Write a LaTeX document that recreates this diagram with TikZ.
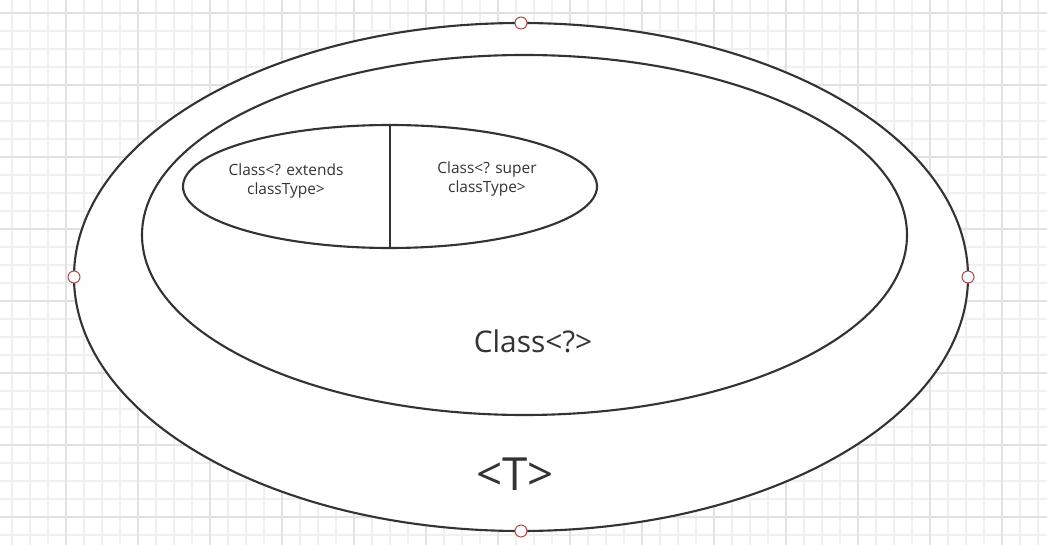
\documentclass[tikz,border=0pt]{standalone}
\usepackage{fontspec}
\setsansfont{Open Sans}
\definecolor{inkgray}{HTML}{333333}
\definecolor{handlered}{HTML}{B04A4A}
\definecolor{gridminor}{HTML}{F0F0F0}
\definecolor{gridmajor}{HTML}{E2E2E2}
\begin{document}
\begin{tikzpicture}[x=0.03cm,y=-0.03cm,
    gridline/.style={gridminor,line width=0.9pt},
    gridbold/.style={gridmajor,line width=1pt},
    setline/.style={draw=inkgray,line width=1.8pt},
    handle/.style={draw=handlered,fill=white,line width=0.9pt},
    every node/.style={font=\sffamily,text=inkgray,align=center}]
  \useasboundingbox (0,0) rectangle (1047,545);
  \fill[white] (0,0) rectangle (1047,545);
  % background grid
  \foreach \gx in {12,30,...,1046} \draw[gridline] (\gx,0) -- (\gx,545);
  \foreach \gy in {13,31,...,544} \draw[gridline] (0,\gy) -- (1047,\gy);
  \foreach \gx in {66,138,...,1046} \draw[gridbold] (\gx,0) -- (\gx,545);
  \foreach \gy in {13,85,...,544} \draw[gridbold] (0,\gy) -- (1047,\gy);
  % nested sets
  \draw[setline,fill=white] (521,277) ellipse [x radius=447,y radius=254];
  \draw[setline] (524.5,235) ellipse [x radius=382.5,y radius=180];
  \draw[setline] (390,186.5) ellipse [x radius=207,y radius=61.5];
  \draw[setline] (390,125) -- (390,248);
  % labels
  \node[font=\sffamily\fontsize{13.2}{17}\selectfont] (extends) at (286,181)
    {Class<? extends\\classType>};
  \node[font=\sffamily\fontsize{13.2}{17}\selectfont] (super) at (487,179)
    {Class<? super\\classType>};
  \node[font=\sffamily\fontsize{25.5}{30}\selectfont] (wild) at (533,341) {Class<?>};
  \node[font=\sffamily\fontsize{39}{44}\selectfont] (tvar) at (515,474) {<T>};
  % selection handles
  \draw[handle] (521,23) circle (6);
  \draw[handle] (74,277) circle (6);
  \draw[handle] (968,277) circle (6);
  \draw[handle] (521,531) circle (6);
\end{tikzpicture}
\end{document}
